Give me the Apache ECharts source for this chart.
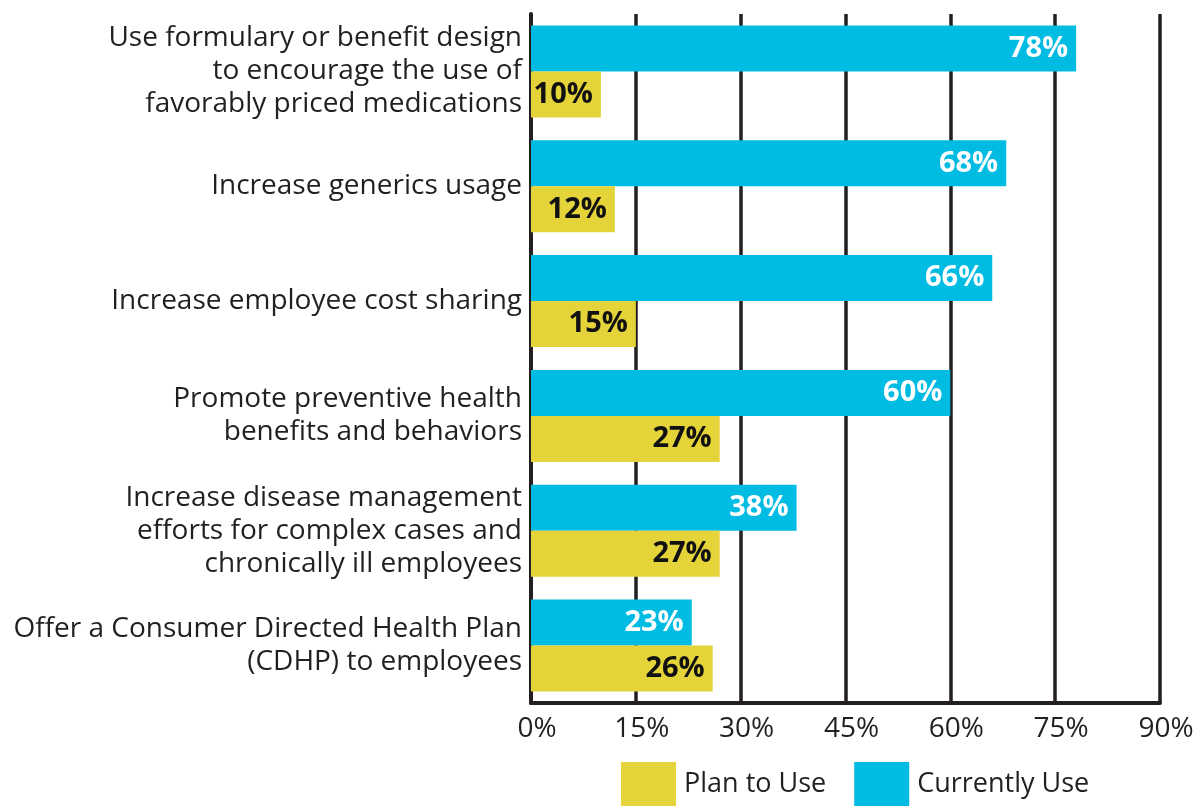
<!DOCTYPE html>
<html><head><meta charset="utf-8">
<script src="https://cdn.jsdelivr.net/npm/echarts@6/dist/echarts.min.js"></script>
<style>html,body{margin:0;padding:0;background:#fff}#c{width:1202px;height:806px}</style>
</head><body><div id="c"></div>
<script>
const categories = [
  "Use formulary or benefit design\nto encourage the use of\nfavorably priced medications",
  "Increase generics usage",
  "Increase employee cost sharing",
  "Promote preventive health\nbenefits and behaviors",
  "Increase disease management\nefforts for complex cases and\nchronically ill employees",
  "Offer a Consumer Directed Health Plan\n(CDHP) to employees"
];
const currentlyUse = [78, 68, 66, 60, 38, 23];
const planToUse = [10, 12, 15, 27, 27, 26];
const xTicks = [0, 15, 30, 45, 60, 75, 90];

const FONT = "Open Sans";
const chart = echarts.init(document.getElementById('c'));
chart.setOption({
  animation: false,
  textStyle: { fontFamily: FONT },
  grid: { left: 531, top: 14, width: 629, height: 689, containLabel: false },
  legend: {
    data: ["Plan to Use", "Currently Use"],
    left: 616, top: 757, itemWidth: 55, itemHeight: 44, itemGap: 28,
    icon: 'rect',
    textStyle: { fontSize: 27, color: '#231f20', fontFamily: FONT, padding: [0, 0, 0, 3] }
  },
  xAxis: {
    type: 'value', min: xTicks[0], max: xTicks[xTicks.length - 1], interval: 15,
    axisLine: { show: true, lineStyle: { color: '#231f20', width: 4 } },
    axisTick: { show: false },
    splitLine: { show: true, lineStyle: { color: '#231f20', width: 3.5 } },
    axisLabel: { fontSize: 28, color: '#231f20', margin: 12, padding: [0, 0, 0, 12], formatter: v => v + '%' }
  },
  yAxis: {
    type: 'category', data: categories, inverse: true,
    axisLine: { show: true, lineStyle: { color: '#231f20', width: 4 } },
    axisTick: { show: false },
    axisLabel: { fontSize: 28, color: '#231f20', margin: 9, lineHeight: 33, align: 'right' }
  },
  series: [
    {
      name: "Currently Use", type: 'bar', data: currentlyUse, barWidth: 46, barGap: '0%',
      itemStyle: { color: '#00bbe2' },
      label: { show: true, position: 'insideRight', distance: 8, formatter: '{c}%', color: '#fff', fontSize: 29, fontWeight: 'bold', fontFamily: FONT }
    },
    {
      name: "Plan to Use", type: 'bar', data: planToUse, barWidth: 46, barGap: '0%',
      itemStyle: { color: '#e5d33a' },
      label: { show: true, position: 'insideRight', distance: 8, formatter: '{c}%', color: '#111', fontSize: 29, fontWeight: 'bold', fontFamily: FONT }
    }
  ]
});
</script></body></html>
